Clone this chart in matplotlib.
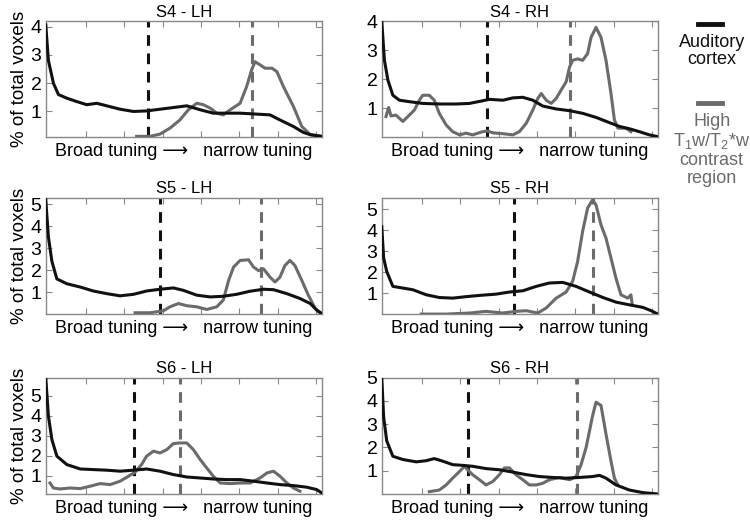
import numpy as np
import matplotlib
matplotlib.use("Agg")
import matplotlib.pyplot as plt

plt.rcParams['font.family'] = ['Liberation Sans', 'DejaVu Sans']
plt.rcParams['mathtext.fontset'] = 'custom'
plt.rcParams['mathtext.rm'] = 'Liberation Sans'

# tuning-width axis runs 0..72 (arbitrary bins), y = % of total voxels
titles = ["S4 - LH", "S4 - RH", "S5 - LH", "S5 - RH", "S6 - LH", "S6 - RH"]

ac_x = [
    [0, 0.7, 2, 3.3, 5.5, 8.1, 10.7, 13.3, 15.9, 19.4, 22.9, 26.3, 29.8, 33.3, 36.8, 40.3,
     43.7, 47.2, 50.7, 55.9, 58.5, 61.1, 64.6, 67.2, 69, 72],
    [0, 0.7, 1.6, 2.9, 4.6, 7.2, 10.7, 15, 19.4, 22.9, 26.3, 28.1, 31.6, 34.2, 36.8, 39.4,
     42, 45.5, 49, 52.4, 55.9, 59.4, 62, 64.6, 67.2, 69.8, 72],
    [0, 0.7, 1.6, 2.9, 5.5, 9, 12.4, 15.9, 19.4, 22.9, 26.3, 29.8, 33.3, 35.9, 39.4, 42.9,
     46.3, 49.8, 53.3, 56.8, 59.4, 62.9, 66.3, 69, 70.7, 72],
    [0, 0.5, 1.3, 2.9, 5.5, 8.1, 11.6, 15, 18.5, 22, 25.5, 29.8, 33.3, 36.8, 40.3, 43.7,
     47.2, 50.7, 54.2, 57.7, 61.1, 64.6, 68.1, 70.3, 72],
    [0, 0.7, 1.6, 2.9, 5.5, 9, 12.4, 15.9, 19.4, 22.9, 26.3, 29.8, 33.3, 36.8, 40.3, 43.7,
     47.2, 50.7, 54.2, 57.7, 61.1, 64.6, 68.1, 70.7, 72],
    [0, 0.5, 1.3, 2.9, 5.5, 9, 11.6, 13.7, 15.9, 18.5, 21.1, 23.7, 27.2, 30.7, 34.2, 37.7,
     41.1, 44.6, 48.1, 51.6, 55, 56.8, 58.5, 61.1, 64.6, 68.1, 72],
]
ac_y = [
    [4.06, 2.8, 2.0, 1.6, 1.47, 1.35, 1.24, 1.29, 1.2, 1.08, 1.0, 1.02, 1.08, 1.14, 1.2, 1.06,
     0.94, 0.94, 0.94, 0.9, 0.88, 0.7, 0.47, 0.26, 0.18, 0.12],
    [4.0, 2.65, 1.97, 1.45, 1.28, 1.23, 1.17, 1.15, 1.15, 1.17, 1.26, 1.31, 1.28, 1.36, 1.38, 1.28,
     1.08, 0.98, 0.92, 0.83, 0.69, 0.51, 0.38, 0.3, 0.2, 0.09, 0.03],
    [5.2, 3.5, 2.4, 1.6, 1.38, 1.23, 1.05, 0.93, 0.83, 0.9, 1.05, 1.13, 1.19, 1.08, 0.86, 0.78,
     0.81, 0.9, 1.04, 1.13, 1.11, 0.93, 0.71, 0.48, 0.18, 0.03],
    [4.17, 2.67, 2.03, 1.32, 1.24, 1.16, 0.92, 0.79, 0.76, 0.83, 0.89, 0.95, 1.05, 1.11, 1.32, 1.48,
     1.51, 1.32, 1.05, 0.79, 0.57, 0.44, 0.32, 0.16, 0.0],
    [5.88, 3.97, 2.8, 1.97, 1.55, 1.33, 1.3, 1.27, 1.22, 1.27, 1.33, 1.22, 1.05, 0.93, 0.88, 0.83,
     0.8, 0.8, 0.72, 0.63, 0.55, 0.5, 0.42, 0.3, 0.13],
    [5.0, 3.29, 2.28, 1.62, 1.48, 1.38, 1.43, 1.52, 1.41, 1.26, 1.23, 1.19, 1.09, 1.04, 0.94, 0.83,
     0.75, 0.71, 0.68, 0.71, 0.75, 0.8, 0.68, 0.39, 0.17, 0.06, 0.0],
]

hc_x = [
    [23.7, 27.2, 29.8, 32.4, 35, 37.2, 39.4, 41.1, 42.9, 44.6, 46.3, 48.1, 50.7, 52.4, 53.7,
     54.6, 55.9, 57.2, 59, 60.3, 62, 64.6, 66.8, 69, 72],
    [1.1, 1.8, 2.4, 3.7, 5.5, 7.2, 8.5, 9.8, 10.7, 12.4, 13.7, 15, 16.8, 18.5, 20.3, 22, 23.7,
     26.3, 27.7, 29, 31.6, 34.2, 35.9, 37.7, 39.4, 40.7, 41.6, 42.9, 44.2, 45.5, 46.8, 48.1,
     49, 49.8, 51.1, 52.4, 53.7, 54.6, 55.9, 57.2, 58.5, 59.8, 60.7, 61.6, 63.7, 65],
    [23.3, 27.2, 30.7, 32.4, 34.6, 36.8, 39.4, 42, 44.6, 46.3, 47.7, 49, 50.7, 52.9, 54.2,
     55.5, 56.8, 58.5, 59.8, 61.1, 62.4, 63.7, 65, 66.8, 68.5, 70.3, 71.6],
    [10.3, 16.8, 22.9, 27.2, 31.6, 35, 37.7, 40.7, 42.9, 45.5, 48.1, 49.8, 51.1, 52.4, 53.7,
     55, 55.9, 57.2, 58.5, 59.8, 61.1, 62.4, 64.2, 65, 65.3],
    [1.1, 2, 3.7, 6.3, 9, 11.6, 14.2, 16.8, 19.4, 21.6, 23.3, 25, 26.3, 28.1, 29.8, 31.6, 33.3,
     35, 36.8, 38.5, 40.3, 42, 43.7, 45.5, 48.1, 50.7, 53.3, 55.9, 57.7, 59.4, 61.1, 62.9,
     64.6, 66.3],
    [12.4, 15, 16.8, 18.5, 20.3, 21.6, 22.4, 23.7, 25.5, 27.2, 29, 30.7, 32, 33.3, 35, 36.8,
     38.5, 40.3, 42, 43.7, 46.3, 49, 50.7, 52, 53.3, 54.2, 55, 55.9, 57.2, 58.5, 59.8, 60.7,
     61.6],
]
hc_y = [
    [0.12, 0.12, 0.2, 0.41, 0.7, 1.06, 1.29, 1.24, 1.12, 0.94, 0.88, 1.06, 1.29, 1.88, 2.47,
     2.76, 2.65, 2.53, 2.53, 2.41, 1.88, 1.18, 0.47, 0.18, 0.12],
    [0.72, 1.03, 0.74, 0.77, 0.55, 0.77, 0.94, 1.28, 1.45, 1.45, 1.28, 0.83, 0.43, 0.2, 0.09,
     0.15, 0.09, 0.2, 0.22, 0.16, 0.13, 0.09, 0.2, 0.49, 0.94, 1.34, 1.51, 1.28, 1.17, 1.34,
     1.63, 1.91, 2.42, 2.65, 2.7, 2.65, 2.88, 3.44, 3.78, 3.44, 2.65, 1.51, 0.6, 0.32, 0.32,
     0.2],
    [0.06, 0.06, 0.15, 0.33, 0.48, 0.38, 0.33, 0.21, 0.33, 0.63, 1.53, 2.14, 2.44, 2.47, 2.14,
     1.98, 2.06, 1.68, 1.46, 1.68, 2.21, 2.44, 2.21, 1.53, 0.86, 0.26, 0.03],
    [0.0, 0.0, 0.05, 0.13, 0.05, 0.13, 0.16, 0.05, 0.29, 0.76, 1.05, 1.56, 2.51, 3.94, 5.05,
     5.44, 5.2, 4.25, 3.62, 2.67, 1.71, 0.92, 0.76, 0.92, 0.52],
    [0.63, 0.38, 0.33, 0.38, 0.35, 0.47, 0.6, 0.55, 0.72, 0.97, 1.17, 1.55, 1.97, 2.22, 2.13,
     2.3, 2.6, 2.63, 2.63, 2.3, 1.8, 1.38, 0.97, 0.63, 0.6, 0.63, 0.63, 0.88, 1.13, 1.22,
     0.97, 0.63, 0.38, 0.22],
    [0.1, 0.17, 0.39, 0.68, 0.97, 1.19, 1.04, 0.83, 0.61, 0.39, 0.54, 0.83, 1.12, 1.12, 0.83,
     0.61, 0.39, 0.39, 0.46, 0.61, 0.71, 0.61, 0.75, 1.26, 1.99, 2.71, 3.36, 3.94, 3.8, 2.57,
     1.41, 0.68, 0.39],
]

# dashed markers (auditory cortex, high-contrast region)
ac_mark = [26.6, 27.5, 29.7, 34.4, 23.1, 22.6]
hc_mark = [53.9, 49.0, 56.2, 55.2, 35.1, 51.0]

ylims = [(0.08, 4.2), (0, 4.0), (0, 5.3), (0, 5.55), (0.08, 5.9), (0, 5.0)]
yticks = [[1, 2, 3, 4], [1, 2, 3, 4], [1, 2, 3, 4, 5], [1, 2, 3, 4, 5],
          [1, 2, 3, 4, 5], [1, 2, 3, 4, 5]]

black = '#111111'
gray = '#6b6b6b'

fig = plt.figure(figsize=(7.5, 5.2), dpi=100)

lefts = [0.061, 0.509]
bottoms = [0.7356, 0.396, 0.05]
w, h = 0.368, 0.224

for i in range(6):
    r, c = divmod(i, 2)
    ax = fig.add_axes([lefts[c], bottoms[r], w, h])
    ax.plot(hc_x[i], hc_y[i], color=gray, lw=2.2, zorder=3)
    ax.plot(ac_x[i], ac_y[i], color=black, lw=2.2, zorder=4)
    ax.axvline(ac_mark[i], color=black, lw=2.2, ls=(0, (3.5, 2.5)), zorder=2)
    ax.axvline(hc_mark[i], color=gray, lw=2.2, ls=(0, (3.5, 2.5)), zorder=2)
    ax.set_xlim(0, 72)
    ax.set_ylim(*ylims[i])
    ax.set_yticks(yticks[i])
    ax.set_xticks(np.arange(10.5, 72, 10))
    ax.set_xticklabels([])
    ax.tick_params(direction='in', top=True, right=True, length=4,
                   color='#888888', labelsize=14, pad=3)
    for s in ax.spines.values():
        s.set_color('#888888')
        s.set_linewidth(1.0)
    ax.set_title(titles[i], fontsize=12, pad=3)
    ax.set_xlabel('Broad tuning \u27f6   narrow tuning', fontsize=13, labelpad=1)
    if c == 0:
        ax.set_ylabel('% of total voxels', fontsize=13.5, labelpad=2)

# legend on the right
fig.add_artist(plt.Line2D([0.931, 0.963], [1 - 24 / 520, 1 - 24 / 520],
                          color=black, lw=3.5, transform=fig.transFigure))
fig.text(0.949, 1 - 51 / 520, 'Auditory\ncortex', ha='center', va='center',
         fontsize=13, color=black, linespacing=1.05)
fig.add_artist(plt.Line2D([0.931, 0.963], [1 - 103 / 520, 1 - 103 / 520],
                          color=gray, lw=3.5, transform=fig.transFigure))
fig.text(0.949, 1 - 150 / 520, 'High\nT$_1$w/T$_2$*w\ncontrast\nregion', ha='center',
         va='center', fontsize=13, color=gray, linespacing=1.05)

fig.savefig('out.png', dpi=100)
